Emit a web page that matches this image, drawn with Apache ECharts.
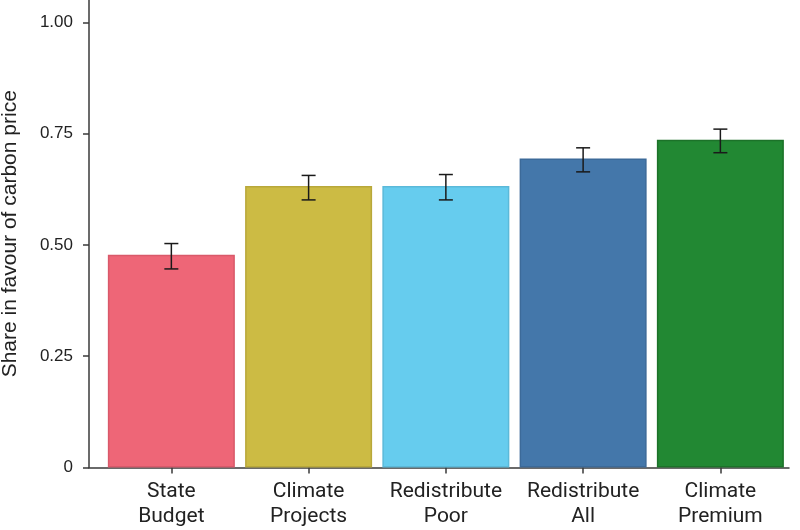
<!DOCTYPE html>
<html>
<head>
<meta charset="utf-8">
<script src="https://cdn.jsdelivr.net/npm/echarts@6/dist/echarts.min.js"></script>
<style>
html,body{margin:0;padding:0;background:#fff;}
#chart{width:800px;height:530px;}
</style>
</head>
<body>
<div id="chart"></div>
<script>
const categories = ['State Budget', 'Climate Projects', 'Redistribute Poor', 'Redistribute All', 'Climate Premium'];
const shares = [0.478, 0.632, 0.632, 0.694, 0.736];
const errLow = [0.446, 0.601, 0.601, 0.664, 0.707];
const errHigh = [0.503, 0.656, 0.658, 0.718, 0.760];
const barColors = ['#EE6677', '#CCBB44', '#66CCEE', '#4477AA', '#228833'];
const borderColors = ['#d9596a', '#b8a83a', '#5bb9d9', '#3c6a99', '#1c7229'];
const yTicks = [0, 0.25, 0.5, 0.75, 1.0];

const chart = echarts.init(document.getElementById('chart'), null, {renderer: 'canvas'});
const idx = categories.map((c, i) => i);

const option = {
  backgroundColor: '#fff',
  animation: false,
  grid: {left: 89, right: 11, top: 0, bottom: 62.5, containLabel: false, outerBoundsMode: 'none'},
  xAxis: {
    type: 'value',
    min: -0.6,
    max: 4.5,
    splitLine: {show: false},
    axisLine: {show: true, onZero: false, lineStyle: {color: '#3a3a3a', width: 1.5}},
    axisTick: {show: true, customValues: idx, length: 6, lineStyle: {color: '#3a3a3a', width: 1.5}},
    axisLabel: {
      customValues: idx,
      margin: 12,
      fontFamily: 'Roboto',
      fontSize: 21,
      lineHeight: 25,
      color: '#222',
      formatter: v => categories[Math.round(v)].replace(' ', '\n')
    }
  },
  yAxis: {
    type: 'value',
    min: 0,
    max: 1.05,
    name: 'Share in favour of carbon price',
    nameLocation: 'middle',
    nameGap: 68,
    nameTextStyle: {fontFamily: 'Liberation Sans', fontSize: 21, color: '#222'},
    splitLine: {show: false},
    axisLine: {show: true, onZero: false, lineStyle: {color: '#3a3a3a', width: 1.5}},
    axisTick: {show: true, customValues: yTicks, length: 6, lineStyle: {color: '#3a3a3a', width: 1.5}},
    axisLabel: {
      customValues: yTicks,
      margin: 16,
      fontFamily: 'Liberation Sans',
      fontSize: 17,
      color: '#222',
      formatter: v => v === 0 ? '0' : v.toFixed(2)
    }
  },
  series: [
    {
      type: 'bar',
      barWidth: 127,
      data: shares.map((v, i) => ({
        value: [i, v],
        itemStyle: {color: barColors[i], borderColor: borderColors[i], borderWidth: 1.5}
      }))
    },
    {
      type: 'custom',
      z: 10,
      data: shares.map((v, i) => [i, errLow[i], errHigh[i]]),
      renderItem: function (params, api) {
        const x = api.value(0);
        const lo = api.coord([x, api.value(1)]);
        const hi = api.coord([x, api.value(2)]);
        const hw = 7;
        const style = {stroke: '#1a1a1a', lineWidth: 1.5, fill: null};
        return {
          type: 'group',
          children: [
            {type: 'line', shape: {x1: lo[0], y1: lo[1], x2: hi[0], y2: hi[1]}, style: style},
            {type: 'line', shape: {x1: lo[0] - hw, y1: lo[1], x2: lo[0] + hw, y2: lo[1]}, style: style},
            {type: 'line', shape: {x1: hi[0] - hw, y1: hi[1], x2: hi[0] + hw, y2: hi[1]}, style: style}
          ]
        };
      }
    }
  ]
};
chart.setOption(option);
</script>
</body>
</html>
